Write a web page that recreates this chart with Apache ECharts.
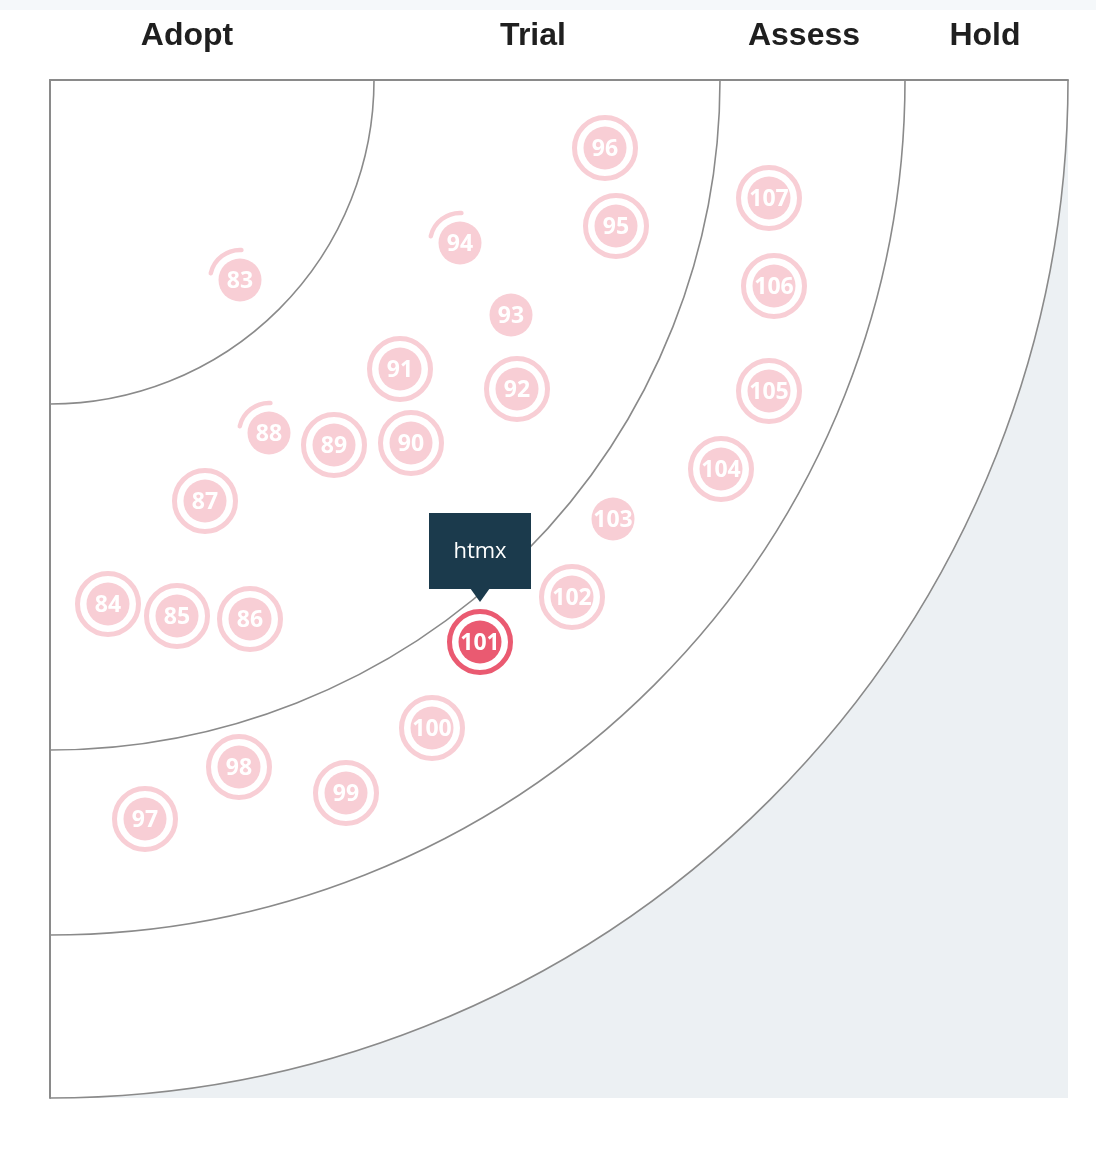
<!DOCTYPE html>
<html>
<head>
<meta charset="utf-8">
<script src="https://cdn.jsdelivr.net/npm/echarts@6/dist/echarts.min.js"></script>
<style>
  html, body { margin: 0; padding: 0; background: #fff; }
  #chart { width: 1096px; height: 1150px; }
</style>
</head>
<body>
<div id="chart"></div>
<script>
// ---- data ----
const ringLabels = ['Adopt', 'Trial', 'Assess', 'Hold'];
const ringRadii = [324, 670, 855, 1018];
const blipIds = [83, 84, 85, 86, 87, 88, 89, 90, 91, 92, 93, 94, 95, 96, 97, 98, 99, 100, 101, 102, 103, 104, 105, 106, 107];
const blipX   = [190, 58, 127, 200, 155, 219, 284, 361, 350, 467, 461, 410, 566, 555, 95, 189, 296, 382, 430, 522, 563, 671, 719, 724, 719];
const blipY   = [200, 524, 536, 539, 421, 353, 365, 363, 289, 309, 235, 163, 146, 68, 739, 687, 713, 648, 562, 517, 439, 389, 311, 206, 118];
const blipStatus = ['moved', 'none', 'none', 'none', 'none', 'moved', 'none', 'none', 'none', 'none', 'new', 'moved', 'none', 'none',
                    'none', 'none', 'none', 'none', 'none', 'none', 'new', 'none', 'none', 'none', 'none'];
const highlightId = 101;
const highlightName = 'htmx';

// ---- layout ----
const labelCenterX = [137, 483, 754, 935];
const LINE = '#8a8a8a';
const PINK = '#f8ced5';
const RED = '#ea5a71';

const chart = echarts.init(document.getElementById('chart'), null, { renderer: 'canvas' });

const blipData = blipIds.map((id, i) => [blipX[i], blipY[i], id]);
const outer = ringRadii[ringRadii.length - 1];

function renderBackground(params, api) {
  const o = api.coord([0, 0]);
  const r = api.size([api.value(0), 0])[0];
  return {
    type: 'group',
    children: [
      { type: 'rect', shape: { x: o[0], y: o[1], width: r, height: r }, style: { fill: '#ecf0f3' } },
      { type: 'sector', shape: { cx: o[0], cy: o[1], r0: 0, r: r, startAngle: 0, endAngle: Math.PI / 2, clockwise: true }, style: { fill: '#ffffff' } }
    ]
  };
}

function renderRing(params, api) {
  const o = api.coord([0, 0]);
  const r = api.size([api.value(0), 0])[0];
  return {
    type: 'arc',
    shape: { cx: o[0], cy: o[1], r: r, startAngle: 0, endAngle: Math.PI / 2, clockwise: true },
    style: { fill: null, stroke: LINE, lineWidth: 1.6 }
  };
}

function renderLabel(params, api) {
  const p = api.coord([api.value(0), 0]);
  return {
    type: 'text',
    style: {
      text: ringLabels[params.dataIndex],
      x: p[0], y: p[1] - 44,
      align: 'center', verticalAlign: 'middle',
      fill: '#1f1f1f',
      font: 'bold 32px "Liberation Sans", Arial, sans-serif'
    }
  };
}

function renderBlip(params, api) {
  const c = api.coord([api.value(0), api.value(1)]);
  const id = api.value(2);
  const i = params.dataIndex;
  const hi = id === highlightId;
  const color = hi ? RED : PINK;
  const children = [];
  const status = blipStatus[i];
  if (status === 'none') {
    children.push({ type: 'circle', shape: { cx: c[0], cy: c[1], r: 30.5 }, style: { fill: null, stroke: color, lineWidth: 5 } });
  } else if (status === 'moved') {
    children.push({ type: 'arc', shape: { cx: c[0], cy: c[1], r: 30, startAngle: 3.37, endAngle: 4.76, clockwise: true },
      style: { fill: null, stroke: color, lineWidth: 4.5, lineCap: 'round' } });
  }
  children.push({ type: 'circle', shape: { cx: c[0], cy: c[1], r: 21.5 }, style: { fill: color } });
  children.push({ type: 'text', style: {
    text: String(id), x: c[0], y: c[1] + 1, align: 'center', verticalAlign: 'middle',
    fill: '#ffffff', font: 'bold 23px "Open Sans", sans-serif'
  } });
  if (hi) {
    children.push({ type: 'rect', shape: { x: c[0] - 51, y: c[1] - 129, width: 102, height: 76 }, style: { fill: '#1b3a4c' } });
    children.push({ type: 'polygon', shape: { points: [[c[0] - 10, c[1] - 54], [c[0] + 10, c[1] - 54], [c[0], c[1] - 40]] }, style: { fill: '#1b3a4c' } });
    children.push({ type: 'text', style: {
      text: highlightName, x: c[0], y: c[1] - 90, align: 'center', verticalAlign: 'middle',
      fill: '#ffffff', font: '22px "Open Sans", sans-serif'
    } });
  }
  return { type: 'group', children };
}

const axisCommon = {
  type: 'value', min: 0, max: outer,
  axisTick: { show: false }, axisLabel: { show: false }, splitLine: { show: false },
  axisLine: { show: true, onZero: false, lineStyle: { color: LINE, width: 2 } },
  z: 10
};

chart.setOption({
  animation: false,
  backgroundColor: '#ffffff',
  graphic: [
    { type: 'rect', left: 0, top: 0, shape: { width: 1096, height: 10 }, style: { fill: '#f5f8fa' } }
  ],
  grid: { left: 50, top: 80, width: outer, height: outer, containLabel: false },
  xAxis: Object.assign({}, axisCommon, { position: 'top' }),
  yAxis: Object.assign({}, axisCommon, { position: 'left', inverse: true }),
  series: [
    { type: 'custom', name: 'bg', renderItem: renderBackground, data: [[outer]], silent: true, z: 1 },
    { type: 'custom', name: 'rings', renderItem: renderRing, data: ringRadii.slice(0, 3).map(r => [r]), silent: true, z: 2 },
    { type: 'custom', name: 'labels', renderItem: renderLabel, data: labelCenterX.map(x => [x]), silent: true, z: 3, clip: false },
    { type: 'custom', name: 'outerRing', renderItem: renderRing, data: [[outer]], silent: true, z: 11 },
    { type: 'custom', name: 'blips', renderItem: renderBlip, data: blipData, z: 20, clip: false }
  ]
});
</script>
</body>
</html>
